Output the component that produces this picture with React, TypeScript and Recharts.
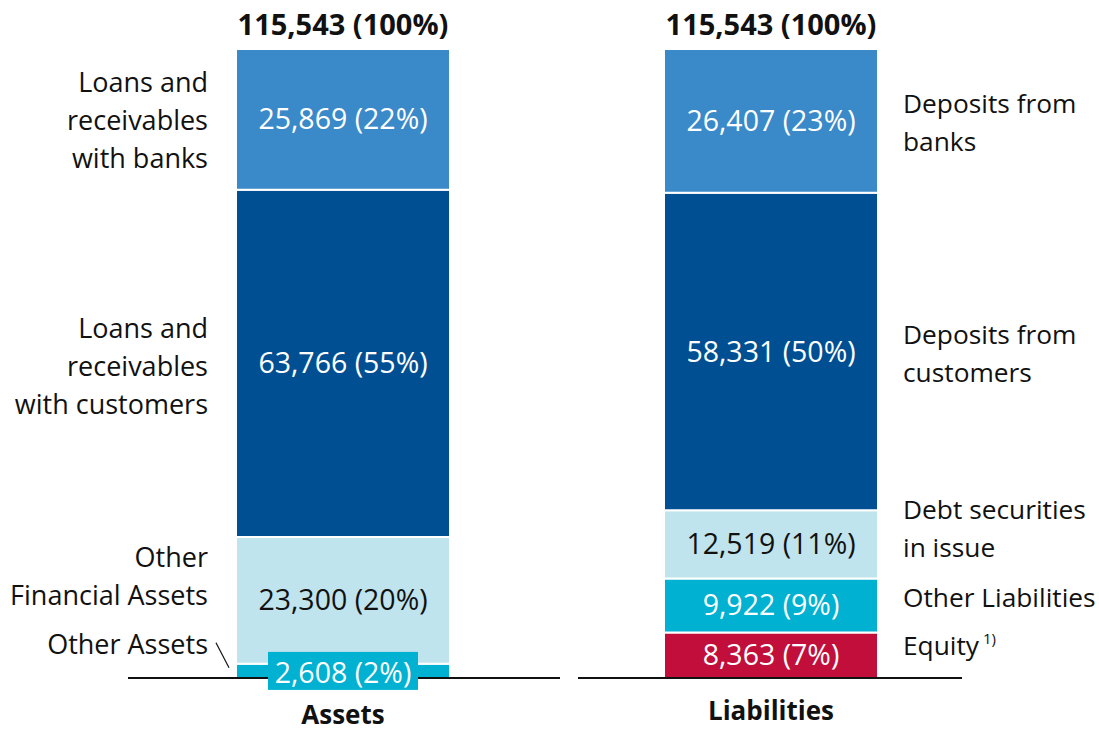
import { BarChart, Bar, XAxis, YAxis, LabelList } from 'recharts';

const categories = ['Assets', 'Liabilities'];
const totals = [115543, 115543];
const totalPercents = [100, 100];

// stacked bottom to top
const assetValues = [2608, 23300, 63766, 25869];
const assetPercents = [2, 20, 55, 22];
const assetLabels = [
  ['Other Assets'],
  ['Other', 'Financial Assets'],
  ['Loans and', 'receivables', 'with customers'],
  ['Loans and', 'receivables', 'with banks'],
];

const liabilityValues = [8363, 9922, 12519, 58331, 26407];
const liabilityPercents = [7, 9, 11, 50, 23];
const liabilityLabels = [
  ['Equity'],
  ['Other Liabilities'],
  ['Debt securities', 'in issue'],
  ['Deposits from', 'customers'],
  ['Deposits from', 'banks'],
];
const liabilityNotes = ['1)', '', '', '', ''];

const BLUE = '#3a89c9';
const DARK = '#004f93';
const LIGHT = '#c0e4ed';
const TEAL = '#00b1d1';
const RED = '#c20e3b';

const assetColors = [TEAL, LIGHT, DARK, BLUE];
const liabilityColors = [RED, TEAL, LIGHT, DARK, BLUE];
const assetTextColors = ['#fff', '#111', '#fff', '#fff'];
const liabilityTextColors = ['#fff', '#fff', '#111', '#fff', '#fff'];

// vertical nudges of the side captions against the segment middle
const assetLabelDy = [-26, -24, 3, 1];
const liabilityLabelDy = [-9, -8, -16, 2, 2];

const FONT = '"Open Sans", sans-serif';
const LEFT_SIZE = 27;
const RIGHT_SIZE = 26.3;
const VALUE_SIZE = 28.5;
const LINE_H = 38;

const data = categories.map((cat, ci) => {
  const row: Record<string, any> = { cat };
  assetValues.forEach((v, i) => (row[`a${i}`] = ci === 0 ? v : 0));
  liabilityValues.forEach((v, i) => (row[`l${i}`] = ci === 1 ? v : 0));
  return row;
});

const fmt = (n: number) => n.toLocaleString('en-US');

function box(props: any) {
  const vb = props.viewBox ?? props;
  return { x: Number(vb.x), y: Number(vb.y), width: Number(vb.width), height: Number(vb.height) };
}

function makeSegmentLabel(
  side: 'left' | 'right',
  value: number,
  pct: number,
  lines: string[],
  dy: number,
  color: string,
  note: string,
  boxed: boolean,
) {
  return (props: any) => {
    if (!props.value) return null;
    const { x, y, width, height } = box(props);
    const cx = x + width / 2;
    const cy = y + height / 2;
    const sx = side === 'left' ? x - 28 : x + width + 25;
    const startY = cy + dy - ((lines.length - 1) * LINE_H) / 2;
    const valueText = `${fmt(value)} (${pct}%)`;
    return (
      <g>
        {boxed ? (
          <g>
            <rect x={cx - 75} y={cy - 19} width={150} height={38} fill={TEAL} />
            <text x={cx} y={cy + 2} dy="0.35em" textAnchor="middle" fill="#fff" fontSize={VALUE_SIZE} fontFamily={FONT}>
              {valueText}
            </text>
            <line x1={x - 20} y1={y - 21} x2={x - 7} y2={y + 4} stroke="#111" strokeWidth={1.2} />
          </g>
        ) : (
          <text x={cx} y={cy} dy="0.35em" textAnchor="middle" fill={color} fontSize={VALUE_SIZE} fontFamily={FONT}>
            {valueText}
          </text>
        )}
        <text
          x={sx}
          y={startY}
          textAnchor={side === 'left' ? 'end' : 'start'}
          fill="#111"
          fontSize={side === 'left' ? LEFT_SIZE : RIGHT_SIZE}
          fontFamily={FONT}
        >
          {lines.map((ln, i) => (
            <tspan key={i} x={sx} dy={i === 0 ? '0.35em' : LINE_H}>
              {ln}
              {note && i === lines.length - 1 ? (
                <tspan fontSize={15} dy={-11}>{'  ' + note}</tspan>
              ) : null}
            </tspan>
          ))}
        </text>
      </g>
    );
  };
}

function makeTotalLabel(ci: number) {
  return (props: any) => {
    if (!props.value) return null;
    const { x, y, width } = box(props);
    return (
      <text x={x + width / 2} y={y - 24} dy="0.35em" textAnchor="middle" fill="#111" fontSize={29} fontWeight="bold" fontFamily={FONT}>
        {`${fmt(totals[ci])} (${totalPercents[ci]}%)`}
      </text>
    );
  };
}

const tickLayout: Record<string, { from: number; to: number; dy: number }> = {
  Assets: { from: -215, to: 217, dy: 37 },
  Liabilities: { from: -193, to: 191, dy: 33 },
};

function CategoryTick(props: any) {
  const { x, y, payload } = props;
  const t = tickLayout[payload.value];
  return (
    <g>
      <line x1={x + t.from} y1={y} x2={x + t.to} y2={y} stroke="#111" strokeWidth={2} />
      <text x={x} y={y + t.dy} dy="0.35em" textAnchor="middle" fill="#111" fontSize={26} fontWeight="bold" fontFamily={FONT}>
        {payload.value}
      </text>
    </g>
  );
}

export default function App() {
  return (
    <div style={{ position: 'absolute', left: 0, top: 0, width: 1099, height: 732, background: '#fff' }}>
      <BarChart width={1099} height={732} data={data} margin={{ top: 49, right: 114, left: 129, bottom: 24 }}>
        <XAxis dataKey="cat" axisLine={false} tickLine={false} tickSize={0} tickMargin={0} height={30} tick={<CategoryTick />} interval={0} />
        <YAxis hide domain={[0, 115543]} />
        {assetValues.map((v, i) => (
          <Bar key={`a${i}`} dataKey={`a${i}`} stackId="s" barSize={214} fill={assetColors[i]} stroke="#fff" strokeWidth={2} isAnimationActive={false}>
            <LabelList
              dataKey={`a${i}`}
              content={makeSegmentLabel('left', v, assetPercents[i], assetLabels[i], assetLabelDy[i], assetTextColors[i], '', i === 0)}
            />
            {i === assetValues.length - 1 ? <LabelList dataKey={`a${i}`} content={makeTotalLabel(0)} /> : null}
          </Bar>
        ))}
        {liabilityValues.map((v, i) => (
          <Bar key={`l${i}`} dataKey={`l${i}`} stackId="s" barSize={214} fill={liabilityColors[i]} stroke="#fff" strokeWidth={2} isAnimationActive={false}>
            <LabelList
              dataKey={`l${i}`}
              content={makeSegmentLabel('right', v, liabilityPercents[i], liabilityLabels[i], liabilityLabelDy[i], liabilityTextColors[i], liabilityNotes[i], false)}
            />
            {i === liabilityValues.length - 1 ? <LabelList dataKey={`l${i}`} content={makeTotalLabel(1)} /> : null}
          </Bar>
        ))}
      </BarChart>
    </div>
  );
}
